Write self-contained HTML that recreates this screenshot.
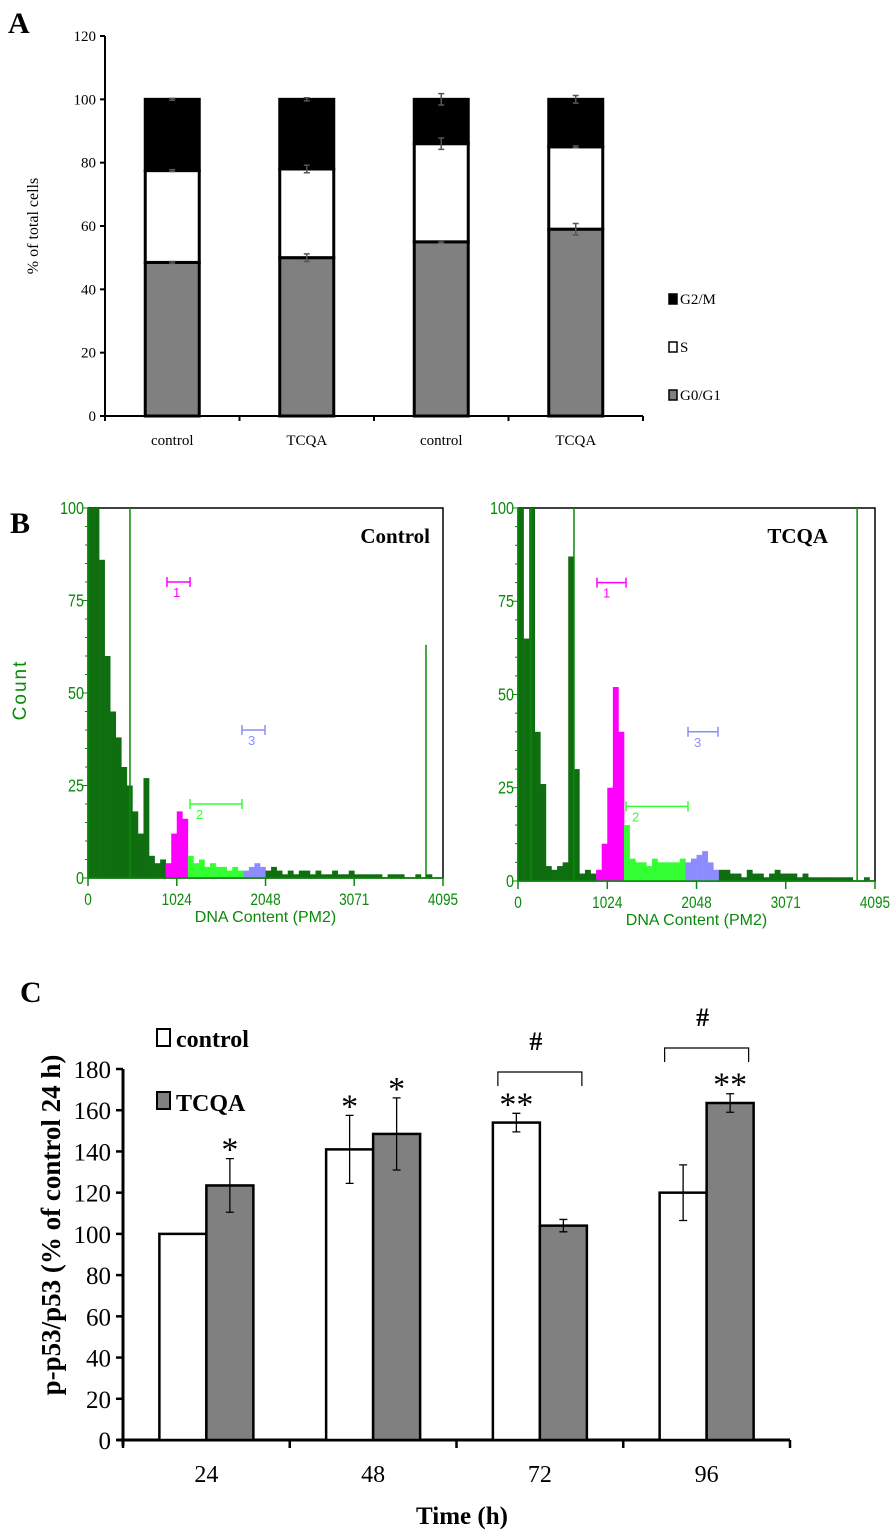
<!DOCTYPE html>
<html><head><meta charset="utf-8"><style>
html,body{margin:0;padding:0;background:#fff}
svg{display:block}
.serif{font-family:"Liberation Serif",serif}
.sans{font-family:"Liberation Sans",sans-serif}
</style></head><body>
<svg id="fig" width="896" height="1534" viewBox="0 0 896 1534" xmlns="http://www.w3.org/2000/svg">
<text x="8" y="33" class="serif" font-size="30" font-weight="bold">A</text>
<text x="10" y="533" class="serif" font-size="30" font-weight="bold">B</text>
<text x="20" y="1002" class="serif" font-size="30" font-weight="bold">C</text>
<g id="pa"></g>
<g id="pb"></g>
<g id="pc"></g>
</svg>
<script>
// ---------- Panel A data ----------
const aCategories = ["control","TCQA","control","TCQA"];
const aG0G1 = [48.5, 50, 55, 59];
const aS = [29, 28, 31, 26];
const aG2M = [22.5, 22, 14, 15];
const aErrG0 = [0.3, 1.2, 0.3, 1.8];
const aErrS = [0.3, 1.2, 1.8, 0.3];
const aErrG2 = [0.3, 0.5, 1.8, 1.2];
const aTicks = [0,20,40,60,80,100,120];

// ---------- Panel B data (counts per 64-channel bin) ----------
const bControl = [100,100,86,60,45,38,30,25,18,12,27,6,4,5,4,12,18,16,6,4,5,3,4,3,3,2,3,2,2,3,4,3,2,3,2,1,2,1,2,2,1,2,1,1,2,1,1,2,1,1,1,1,1,0,1,1,1,0,0,1,0,1,0,0];
const bTCQA = [100,65,100,40,26,4,3,4,5,87,30,2,3,2,3,10,25,52,40,15,6,5,5,4,6,5,5,5,5,6,5,6,7,8,5,3,3,3,2,2,1,3,2,2,1,2,3,2,2,2,1,2,1,1,1,1,1,1,1,1,0,0,1,0];
const bGateC = [[911,1177],[1177,1776],[1776,2042]];
const bGateT = [[906,1239],[1239,1950],[1950,2294]];
const bGateLevels = [80,20,40];
const bLinesC = [[484,100],[3899,63]];
const bLinesT = [[150,100],[642,100],[3890,100]];
const bXTicks = [0,1024,2048,3071,4095];
const bYTicks = [0,25,50,75,100];

// ---------- Panel C data ----------
const cCategories = ["24","48","72","96"];
const cControl = [100, 141, 154, 120];
const cTCQA = [123.5, 148.5, 104, 163.5];
const cErrControl = [0, 16.5, 4.5, 13.5];
const cErrTCQA = [13, 17.5, 3, 4.5];
const cStarsControl = ["", "*", "**", ""];
const cStarsTCQA = ["*", "*", "", "**"];
const cTicks = [0,20,40,60,80,100,120,140,160,180];

const NS="http://www.w3.org/2000/svg";
function mk(parent, tag, attrs, name, text){
  const el=document.createElementNS(NS,tag);
  for(const k in attrs) el.setAttribute(k, attrs[k]);
  
  
  if(text!==undefined) el.textContent=text;
  parent.appendChild(el);
  return el;
}

// ===== Panel A =====
(function(){
  const g=document.getElementById('pa');
  const x0=105, x1=643, y0=416, yTop=36;
  const ys=v=>y0-(v/120)*(y0-yTop);
  const band=(x1-x0)/aCategories.length;
  const xc=i=>x0+band*(i+0.5);
  const bw=54;
  mk(g,'line',{x1:x0,y1:yTop,x2:x0,y2:y0+4,stroke:'#000','stroke-width':2},'a-y-axis');
  mk(g,'line',{x1:x0-4,y1:y0,x2:x1,y2:y0,stroke:'#000','stroke-width':2},'a-x-axis');
  aTicks.forEach(t=>{
    mk(g,'line',{x1:x0-5,y1:ys(t),x2:x0,y2:ys(t),stroke:'#000','stroke-width':2},'a-y-tick');
    mk(g,'text',{x:x0-9,y:ys(t)+5,'text-anchor':'end','font-size':15,class:'serif'},'a-y-tick-label',String(t));
  });
  for(let i=0;i<=aCategories.length;i++) mk(g,'line',{x1:x0+band*i,y1:y0,x2:x0+band*i,y2:y0+5,stroke:'#000','stroke-width':2},'a-x-tick');
  aCategories.forEach((c,i)=>{
    mk(g,'text',{x:xc(i),y:445,'text-anchor':'middle','font-size':15,class:'serif'},'a-x-label',c);
    const b1=aG0G1[i], b2=b1+aS[i], b3=b2+aG2M[i];
    mk(g,'rect',{x:xc(i)-bw/2,y:ys(b1),width:bw,height:ys(0)-ys(b1),fill:'#808080',stroke:'#000','stroke-width':3},'a-bar-g0g1');
    mk(g,'rect',{x:xc(i)-bw/2,y:ys(b2),width:bw,height:ys(b1)-ys(b2),fill:'#fff',stroke:'#000','stroke-width':3},'a-bar-s');
    mk(g,'rect',{x:xc(i)-bw/2,y:ys(b3),width:bw,height:ys(b2)-ys(b3),fill:'#000',stroke:'#000','stroke-width':3},'a-bar-g2m');
    [[b1,aErrG0[i]],[b2,aErrS[i]],[b3,aErrG2[i]]].forEach(([v,e])=>{
      const ya=ys(v+e), yb=ys(v-e);
      mk(g,'path',{d:`M${xc(i)} ${ya}V${yb}M${xc(i)-3} ${ya}H${xc(i)+3}M${xc(i)-3} ${yb}H${xc(i)+3}`,stroke:'#555','stroke-width':1.5,fill:'none'},'a-error-bar');
    });
  });
  mk(g,'text',{x:0,y:0,transform:'translate(38,226) rotate(-90)','text-anchor':'middle','font-size':16,class:'serif'},'a-y-axis-title','% of total cells');
  const leg=[["G2/M","#000"],["S","#fff"],["G0/G1","#808080"]];
  leg.forEach((l,i)=>{
    const y=300+i*48;
    mk(g,'rect',{x:669,y:y-6,width:8,height:10,fill:l[1],stroke:'#000','stroke-width':1.5},'a-legend-swatch');
    mk(g,'text',{x:680,y:y+4,'font-size':15,class:'serif'},'a-legend-label',l[0]);
  });
})();

// ===== Panel B =====
function hist(g, X0, X1, Y0, Y1, bins, gates, lines, title, titleX){
  const xs=c=>X0+(c/4095)*(X1-X0);
  const ys=v=>Y0-(v/100)*(Y0-Y1);
  const dk='#0f6e0f', grn='#0a8a0a';
  const cols=['#ff00ff','#33ff33','#8c8cff'];
  mk(g,'rect',{x:X0,y:Y1,width:X1-X0,height:Y0-Y1,fill:'#fff',stroke:'#000','stroke-width':1.5},'b-plot-frame');
  bins.forEach((v,i)=>{
    const c0=i*64, cm=c0+32;
    let col=dk;
    gates.forEach((gt,k)=>{ if(cm>=gt[0]&&cm<gt[1]) col=cols[k]; });
    mk(g,'rect',{x:xs(c0),y:ys(v),width:xs(c0+64)-xs(c0)+0.3,height:ys(0)-ys(v),fill:col},'b-hist-bin');
  });
  lines.forEach(l=>mk(g,'line',{x1:xs(l[0]),y1:ys(0),x2:xs(l[0]),y2:ys(l[1]),stroke:grn,'stroke-width':1.5},'b-marker-line'));
  gates.forEach((gt,k)=>{
    const y=ys(bGateLevels[k]), a=xs(gt[0]), b=xs(gt[1]);
    mk(g,'path',{d:`M${a} ${y}H${b}M${a} ${y-5}V${y+5}M${b} ${y-5}V${y+5}`,stroke:cols[k],'stroke-width':1.5,fill:'none'},'b-gate-marker');
    mk(g,'text',{x:a+6,y:y+15,'font-size':13,fill:cols[k],class:'sans'},'b-gate-label',String(k+1));
  });
  mk(g,'line',{x1:X0,y1:Y0,x2:X1,y2:Y0,stroke:grn,'stroke-width':1.5},'b-x-axis');
  mk(g,'line',{x1:X0,y1:Y1,x2:X0,y2:Y0,stroke:grn,'stroke-width':1.5},'b-y-axis');
  bXTicks.forEach(t=>{
    mk(g,'line',{x1:xs(t),y1:Y0,x2:xs(t),y2:Y0+8,stroke:grn,'stroke-width':1.5},'b-x-tick');
    mk(g,'text',{x:xs(t),y:Y0+27,'text-anchor':'middle','font-size':17,fill:grn,class:'sans',transform:`translate(${xs(t)*0.2},0) scale(0.8,1)`},'b-x-tick-label',String(t));
  });
  for(let v=0;v<=100;v+=5) mk(g,'line',{x1:X0-(v%25?3:6),y1:ys(v),x2:X0,y2:ys(v),stroke:grn,'stroke-width':1},'b-y-tick');
  bYTicks.forEach(t=>mk(g,'text',{x:X0-4,y:ys(t)+6,'text-anchor':'end','font-size':18,fill:grn,class:'sans',transform:`translate(${(X0-4)*0.2},0) scale(0.8,1)`},'b-y-tick-label',String(t)));
  mk(g,'text',{x:(X0+X1)/2,y:Y0+44,'text-anchor':'middle','font-size':16,fill:grn,class:'sans'},'b-x-axis-title','DNA Content (PM2)');
  mk(g,'text',{x:titleX,y:Y1+35,'text-anchor':'end','font-size':21,'font-weight':'bold',class:'serif'},'b-plot-title',title);
}
(function(){
  const g=document.getElementById('pb');
  const gl=mk(g,'g',{},'b-control-histogram');
  hist(gl,88,443,878,508,bControl,bGateC,bLinesC,'Control',430);
  const gr=mk(g,'g',{},'b-tcqa-histogram');
  hist(gr,518,875,881,508,bTCQA,bGateT,bLinesT,'TCQA',828);
  mk(g,'text',{x:0,y:0,transform:'translate(26,690) rotate(-90)','text-anchor':'middle','font-size':19,fill:'#0a8a0a',class:'sans','letter-spacing':'2'},'b-y-axis-title','Count');
})();

// ===== Panel C =====
(function(){
  const g=document.getElementById('pc');
  const x0=123, x1=790, y0=1440, yTop=1069;
  const ys=v=>y0-(v/180)*(y0-yTop);
  const band=(x1-x0)/cCategories.length;
  const bw=47;
  mk(g,'line',{x1:x0,y1:yTop,x2:x0,y2:y0+6,stroke:'#000','stroke-width':3},'c-y-axis');
  mk(g,'line',{x1:x0-6,y1:y0,x2:x1,y2:y0,stroke:'#000','stroke-width':3},'c-x-axis');
  cTicks.forEach(t=>{
    mk(g,'line',{x1:x0-7,y1:ys(t),x2:x0,y2:ys(t),stroke:'#000','stroke-width':2.5},'c-y-tick');
    mk(g,'text',{x:x0-12,y:ys(t)+9,'text-anchor':'end','font-size':25,class:'serif'},'c-y-tick-label',String(t));
  });
  for(let i=0;i<=cCategories.length;i++) mk(g,'line',{x1:x0+band*i,y1:y0,x2:x0+band*i,y2:y0+8,stroke:'#000','stroke-width':2.5},'c-x-tick');
  cCategories.forEach((c,i)=>{
    const cx=x0+band*(i+0.5);
    mk(g,'text',{x:cx,y:1482,'text-anchor':'middle','font-size':24,class:'serif'},'c-x-label',c);
    const xa=cx-bw, xb=cx;
    mk(g,'rect',{x:xa,y:ys(cControl[i]),width:bw,height:ys(0)-ys(cControl[i]),fill:'#fff',stroke:'#000','stroke-width':2.5},'c-bar-control');
    mk(g,'rect',{x:xb,y:ys(cTCQA[i]),width:bw,height:ys(0)-ys(cTCQA[i]),fill:'#808080',stroke:'#000','stroke-width':2.5},'c-bar-tcqa');
    [[xa+bw/2,cControl[i],cErrControl[i],cStarsControl[i]],[xb+bw/2,cTCQA[i],cErrTCQA[i],cStarsTCQA[i]]].forEach(([x,v,e,s])=>{
      if(e>0){
        const ya=ys(v+e), yb=ys(v-e);
        mk(g,'path',{d:`M${x} ${ya}V${yb}M${x-4} ${ya}H${x+4}M${x-4} ${yb}H${x+4}`,stroke:'#000','stroke-width':1.3,fill:'none'},'c-error-bar');
      }
      if(s) mk(g,'text',{x:x,y:ys(v+e)+2,'text-anchor':'middle','font-size':34,class:'serif'},'c-significance-star',s);
    });
  });
  [[2,1072,1050],[3,1048,1026]].forEach(([i,y,ty])=>{
    const cx=x0+band*(i+0.5);
    mk(g,'path',{d:`M${cx-42} ${y+14}V${y}H${cx+42}V${y+14}`,stroke:'#000','stroke-width':1.2,fill:'none'},'c-bracket');
    mk(g,'text',{x:cx-4,y:ty,'text-anchor':'middle','font-size':26,'font-weight':'bold',class:'serif'},'c-hash-mark','#');
  });
  mk(g,'rect',{x:157,y:1029,width:13,height:17,fill:'#fff',stroke:'#000','stroke-width':2},'c-legend-swatch-control');
  mk(g,'text',{x:176,y:1047,'font-size':24,'font-weight':'bold',class:'serif'},'c-legend-label-control','control');
  mk(g,'rect',{x:157,y:1092,width:13,height:17,fill:'#808080',stroke:'#000','stroke-width':2},'c-legend-swatch-tcqa');
  mk(g,'text',{x:176,y:1111,'font-size':24,'font-weight':'bold',class:'serif'},'c-legend-label-tcqa','TCQA');
  mk(g,'text',{x:0,y:0,transform:'translate(60,1225) rotate(-90)','text-anchor':'middle','font-size':27,'font-weight':'bold',class:'serif'},'c-y-axis-title','p-p53/p53  (% of control 24 h)');
  mk(g,'text',{x:462,y:1524,'text-anchor':'middle','font-size':25,'font-weight':'bold',class:'serif'},'c-x-axis-title','Time (h)');
})();
</script>
</body></html>
